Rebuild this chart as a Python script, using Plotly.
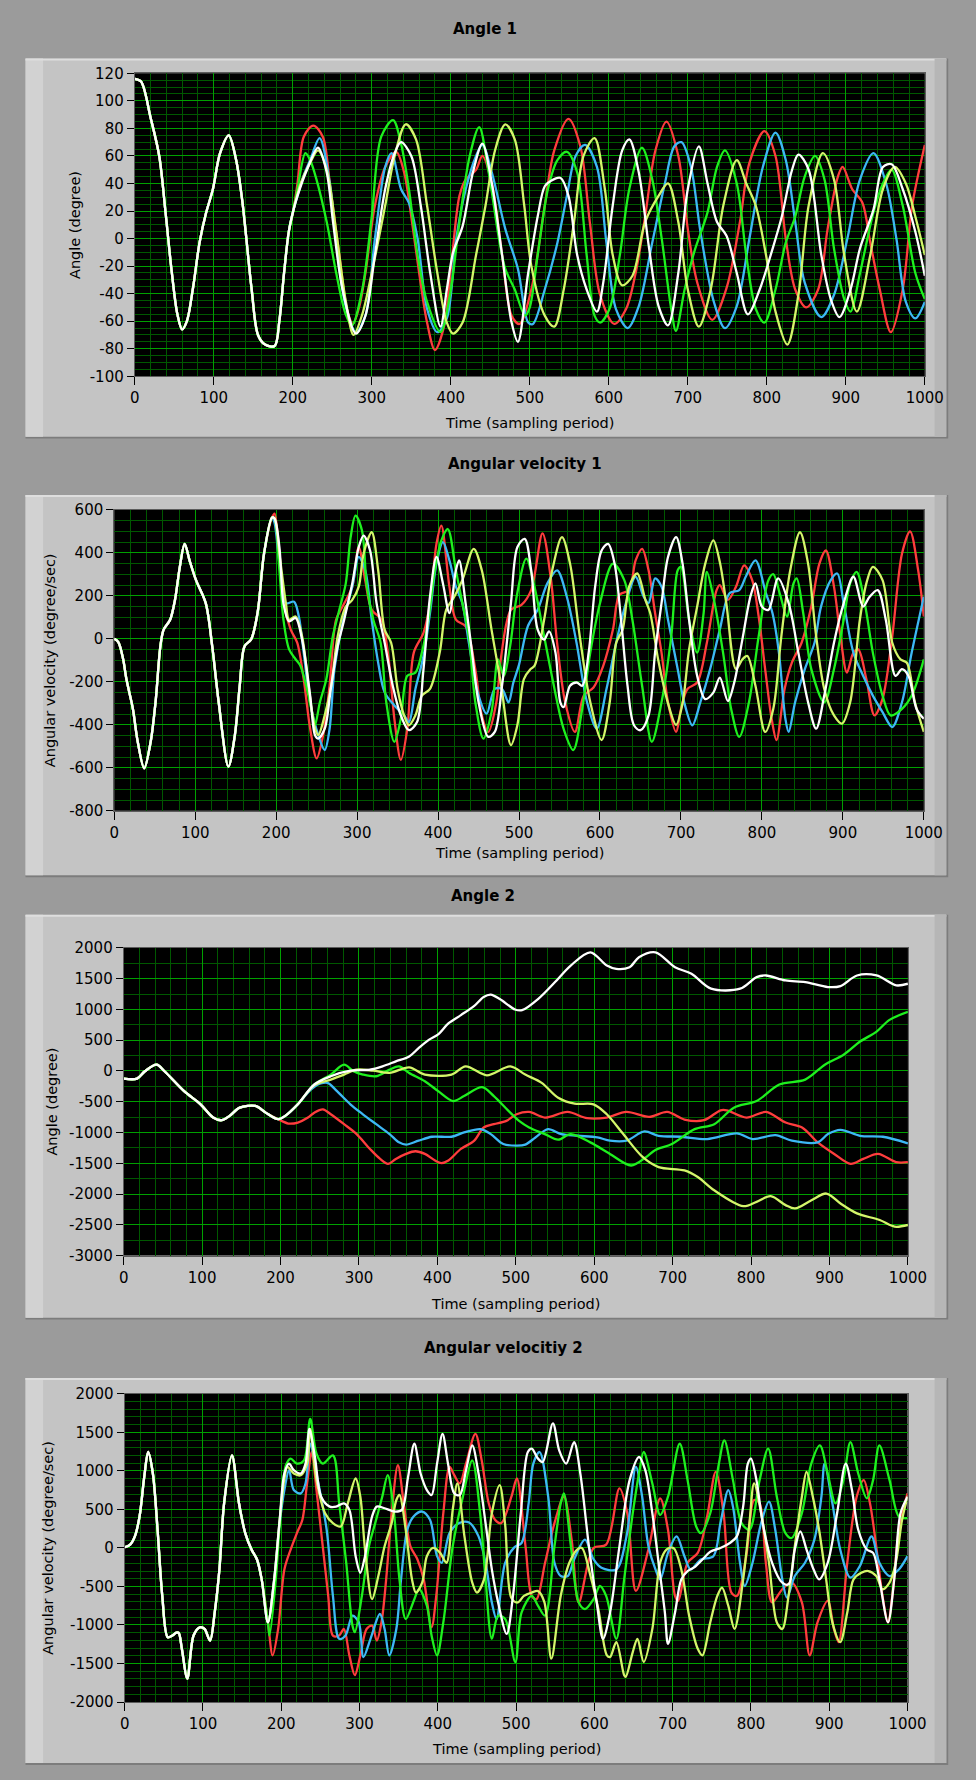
import plotly.graph_objects as go

# ---------------------------------------------------------------------------
# Sampled trajectories, (sample index, value) knots for each pendulum run.
# ---------------------------------------------------------------------------

# Angle 1 (degree)
ANGLE1_START = [(0, 116), (8, 114), (20, 88), (31, 60), (39, 19), (47, -25), (54, -55), (60, -66),
                (66, -60), (74, -35), (82, -3), (90, 18), (99, 36), (108, 62), (119, 75), (128, 58),
                (136, 28), (148, -37), (156, -70), (165, -77), (177, -78), (183, -60), (189, -25),
                (195, 5), (201, 21)]
ANGLE1_RED = [(206, 40), (214, 74), (226, 82), (238, 74), (247, 40), (259, -12), (269, -52), (276, -62),
              (284, -50), (292, -25), (304, 24), (317, 52), (331, 63), (341, 48), (350, 16), (360, -25),
              (370, -61), (380, -81), (391, -65), (401, -17), (411, 31), (419, 43), (432, 50), (440, 60),
              (452, 40), (465, -12), (477, -56), (487, -62), (502, -37), (519, 24), (531, 64), (549, 87),
              (564, 67), (576, 12), (589, -41), (607, -62), (622, -51), (634, -25), (646, 16), (659, 64),
              (673, 85), (688, 60), (700, 7), (712, -32), (731, -59), (749, -36), (766, 12), (778, 55),
              (797, 78), (811, 60), (824, 0), (836, -37), (850, -50), (865, -37), (877, 7), (890, 45),
              (896, 52), (908, 36), (921, 26), (931, -3), (943, -37), (957, -68), (972, -37), (984, 24),
              (1000, 68)]
ANGLE1_BLUE = [(206, 31), (214, 46), (222, 57), (234, 73), (247, 40), (255, -3), (267, -49), (280, -68),
               (292, -56), (304, 0), (317, 52), (325, 62), (337, 36), (347, 26), (358, 0), (370, -51),
               (383, -68), (395, -58), (407, 0), (419, 36), (432, 60), (440, 68), (452, 48), (469, 7),
               (485, -22), (498, -61), (504, -62), (519, -37), (535, -3), (547, 31), (558, 60), (570, 68),
               (585, 52), (597, -3), (609, -51), (624, -65), (638, -49), (655, -3), (671, 40), (683, 67),
               (692, 70), (704, 52), (716, 5), (733, -46), (747, -65), (762, -49), (778, 0), (795, 52),
               (811, 77), (824, 57), (836, 12), (848, -32), (869, -57), (885, -41), (902, 0), (918, 43),
               (935, 62), (951, 40), (964, 0), (976, -46), (988, -58), (1000, -46)]
ANGLE1_GREEN = [(206, 36), (216, 62), (222, 57), (230, 43), (243, 12), (255, -25), (267, -55), (275, -63),
                (288, -37), (300, 16), (312, 74), (327, 86), (337, 69), (347, 36), (358, -12), (370, -46),
                (387, -68), (399, -41), (411, 12), (424, 60), (436, 81), (448, 48), (461, 0), (469, -22),
                (481, -37), (494, -56), (500, -50), (510, -12), (523, 36), (535, 57), (547, 63), (560, 48),
                (572, -12), (582, -56), (589, -61), (601, -51), (614, -12), (626, 36), (642, 66), (655, 43),
                (667, 0), (679, -51), (685, -67), (696, -37), (708, -10), (725, 19), (737, 52), (747, 64),
                (762, 40), (774, -12), (786, -51), (797, -61), (811, -37), (824, -3), (836, 16), (848, 45),
                (861, 60), (873, 43), (885, -7), (898, -44), (906, -53), (918, -25), (935, 19), (947, 40),
                (958, 50), (972, 24), (988, -25), (1000, -44)]
ANGLE1_YELLOW = [(210, 40), (222, 55), (232, 64), (243, 50), (255, 5), (267, -45), (277, -70), (288, -55),
                 (300, -25), (317, 24), (329, 60), (343, 83), (356, 72), (370, 24), (383, -25), (395, -61),
                 (403, -69), (415, -61), (432, -12), (444, 24), (456, 64), (469, 83), (481, 72), (493, 24),
                 (502, -20), (519, -56), (531, -64), (543, -37), (556, 12), (568, 60), (582, 73), (595, 36),
                 (605, -12), (617, -34), (630, -27), (646, 12), (663, 31), (675, 40), (688, 12), (700, -37),
                 (714, -64), (729, -37), (745, 24), (762, 57), (774, 40), (786, 24), (799, -12), (811, -53),
                 (826, -77), (840, -41), (853, 24), (871, 62), (885, 43), (898, -12), (914, -53), (931, -12),
                 (947, 36), (962, 52), (976, 40), (988, 16), (1000, -12)]
ANGLE1_WHITE = [(206, 31), (218, 50), (232, 66), (243, 48), (251, 12), (263, -37), (280, -69), (292, -56),
                (304, -12), (317, 36), (329, 62), (337, 70), (350, 60), (362, 24), (374, -25), (387, -64),
                (395, -37), (403, -10), (415, 9), (428, 48), (440, 69), (452, 40), (465, -12), (477, -61),
                (485, -75), (498, -25), (510, 16), (519, 38), (527, 42), (539, 44), (549, 31), (560, -12),
                (572, -37), (585, -53), (593, -32), (605, 24), (617, 64), (626, 72), (638, 48), (651, -7),
                (663, -49), (675, -63), (688, -25), (700, 36), (714, 67), (725, 40), (737, 12), (749, 2),
                (762, -25), (776, -55), (791, -37), (807, -8), (819, 16), (832, 50), (840, 61), (853, 50),
                (869, -12), (881, -44), (892, -57), (906, -37), (918, -7), (935, 21), (947, 52), (958, 54),
                (972, 36), (988, 5), (1000, -27)]

# Angular velocity 1 (degree/sec)
VEL1_START = [(0, 0), (5, -15), (11, -95), (15, -187), (23, -325), (29, -479), (37, -602), (45, -479),
              (51, -295), (57, -34), (61, 43), (69, 89), (75, 181), (81, 335), (87, 442), (93, 365),
              (101, 273), (113, 166), (121, -34), (129, -295), (141, -594), (149, -448), (155, -218),
              (161, -34), (169, -3), (177, 120), (185, 396), (195, 565)]
VEL1_RED = [(198, 583), (204, 396), (209, 166), (218, 43), (226, -18), (234, -187), (242, -418), (250, -556),
            (258, -448), (266, -218), (274, 89), (282, 150), (294, 243), (302, 427), (310, 273), (318, 135),
            (330, 89), (338, -64), (346, -372), (354, -563), (362, -418), (370, -64), (382, 28), (390, 166),
            (398, 442), (404, 527), (414, 243), (422, 89), (434, 58), (446, -141), (454, -356), (462, -433),
            (472, -295), (478, -80), (490, 135), (503, 158), (515, 227), (529, 491), (539, 289), (547, -18),
            (557, -295), (569, -433), (580, -264), (592, -226), (604, -126), (616, 43), (624, 204), (636, 227),
            (644, 365), (652, 419), (660, 319), (668, 120), (676, -64), (684, -295), (694, -433), (700, -326),
            (708, -233), (720, -203), (732, -18), (744, 227), (748, 250), (758, 181), (768, 243), (778, 342),
            (788, 273), (796, 104), (804, -141), (812, -372), (818, -471), (828, -233), (837, -111), (849, -18),
            (861, 150), (871, 350), (879, 411), (889, 243), (897, 12), (905, -157), (913, -64), (919, -49),
            (929, -187), (939, -356), (949, -279), (961, 12), (973, 396), (983, 500), (993, 319), (1000, 104)]
VEL1_BLUE = [(198, 540), (204, 350), (212, 166), (222, 173), (228, 104), (234, -64), (242, -295), (252, -448),
             (260, -517), (266, -418), (272, -141), (282, 74), (294, 243), (302, 381), (310, 319), (318, 89),
             (326, -111), (334, -249), (346, -310), (358, -356), (364, -387), (372, -233), (382, -80), (390, 120),
             (398, 350), (406, 450), (414, 365), (422, 243), (430, 166), (438, -18), (450, -264), (460, -348),
             (470, -233), (479, -233), (487, -295), (493, -203), (500, -120), (511, 60), (523, 135), (535, 258),
             (547, 319), (559, 196), (571, -18), (584, -295), (596, -418), (608, -233), (620, -18), (632, 166),
             (644, 289), (654, 196), (660, 166), (668, 281), (676, 243), (684, 89), (696, -141), (704, -295),
             (714, -402), (724, -295), (736, -141), (748, 43), (760, 212), (772, 227), (780, 289), (792, 365),
             (805, 212), (813, 120), (821, -64), (829, -372), (833, -433), (841, -295), (853, -141), (865, -18),
             (873, 150), (885, 273), (893, 304), (901, 166), (913, -64), (925, -172), (937, -264), (949, -341),
             (961, -410), (973, -295), (985, -64), (1000, 196)]
VEL1_GREEN = [(198, 560), (204, 319), (209, 89), (216, -49), (224, -95), (230, -126), (238, -233), (246, -372),
              (248, -402), (254, -295), (262, -187), (270, 12), (278, 135), (286, 258), (292, 473), (298, 573),
              (306, 504), (312, 243), (320, 89), (329, -18), (336, -295), (346, -479), (354, -372), (362, -172),
              (372, -157), (380, -64), (388, 89), (396, 319), (404, 457), (412, 511), (422, 319), (430, 166),
              (438, 12), (446, -295), (456, -464), (466, -341), (474, -95), (481, -172), (489, -34), (497, 196),
              (509, 373), (519, 243), (531, 12), (543, -218), (555, -418), (567, -517), (578, -326), (588, -64),
              (600, 166), (616, 350), (630, 273), (640, 89), (652, -218), (664, -479), (676, -295), (688, 12),
              (696, 319), (700, 335), (710, 89), (720, -64), (728, 120), (732, 312), (740, 196), (752, -64),
              (762, -326), (772, -456), (784, -295), (796, 12), (808, 273), (814, 301), (822, 212), (831, 104),
              (839, 258), (843, 281), (851, 120), (861, -141), (877, -295), (889, -141), (901, 89), (909, 258),
              (917, 312), (927, 166), (937, -64), (949, -264), (959, -356), (973, -326), (985, -264),
              (1000, -95)]
VEL1_YELLOW = [(198, 560), (204, 396), (212, 166), (216, 89), (224, 104), (232, 12), (240, -218), (248, -418),
               (252, -448), (260, -356), (268, -218), (276, 12), (286, 150), (294, 181), (302, 243), (308, 396),
               (318, 496), (326, 319), (334, 43), (342, -18), (350, -233), (358, -356), (364, -402), (372, -356),
               (380, -264), (390, -233), (402, -64), (410, 135), (420, 196), (430, 273), (444, 419), (454, 319),
               (466, 43), (478, -218), (490, -494), (498, -400), (506, -187), (514, -141), (519, -126), (531, 89),
               (541, 319), (553, 473), (563, 350), (575, 12), (588, -295), (602, -471), (612, -295), (620, -18),
               (628, 43), (636, 243), (646, 304), (656, 181), (662, 120), (672, -100), (684, -300), (694, -400),
               (702, -300), (710, -50), (720, 150), (730, 350), (740, 458), (748, 357), (756, 166), (768, -141),
               (776, -95), (782, -80), (792, -218), (804, -433), (814, -326), (824, 12), (835, 319), (847, 496),
               (857, 350), (867, 12), (877, -233), (889, -356), (899, -394), (909, -295), (921, 89), (929, 258),
               (937, 335), (949, 273), (961, -18), (971, -95), (979, -111), (989, -295), (1000, -433)]
VEL1_WHITE = [(198, 560), (204, 427), (209, 166), (216, 81), (224, 97), (232, -3), (242, -264), (248, -448),
              (252, -464), (260, -418), (268, -218), (276, -34), (284, 89), (294, 258), (302, 427), (308, 480),
              (316, 411), (324, 166), (334, -18), (344, -218), (354, -356), (364, -425), (374, -387), (382, -141),
              (390, 196), (398, 381), (406, 258), (414, 120), (422, 319), (426, 365), (434, 166), (442, -64),
              (450, -295), (462, -456), (470, -433), (479, -218), (490, 166), (498, 427), (507, 465), (515, 319),
              (523, 43), (531, -3), (537, 35), (545, -64), (551, -295), (555, -318), (563, -218), (571, -203),
              (578, -218), (586, -64), (594, 243), (602, 411), (610, 442), (618, 350), (626, 89), (634, -218),
              (642, -402), (650, -425), (660, -356), (668, -64), (676, 166), (684, 381), (694, 473), (702, 350),
              (710, 89), (720, -172), (730, -280), (740, -250), (748, -180), (758, -290), (766, -200), (776, 0),
              (786, 200), (792, 258), (800, 150), (808, 135), (820, 281), (833, 166), (845, -64), (857, -295),
              (867, -418), (877, -264), (889, -18), (901, 166), (913, 289), (925, 150), (933, 196), (943, 227),
              (953, 89), (965, -172), (973, -141), (981, -172), (991, -326), (1000, -372)]

# Angle 2 (degree)
ANGLE2_START = [(0, -124), (17, -124), (27, -5), (42, 102), (52, -5), (77, -328), (98, -542), (114, -757),
                (125, -800), (135, -730), (148, -596), (168, -569), (181, -677), (197, -784)]
ANGLE2_RED = [(210, -854), (222, -838), (235, -757), (243, -677), (254, -623), (264, -704), (281, -865),
              (297, -1026), (314, -1267), (327, -1429), (337, -1509), (347, -1429), (360, -1348), (372, -1305),
              (384, -1348), (397, -1455), (405, -1498), (414, -1455), (430, -1267), (447, -1133), (459, -918),
              (472, -865), (488, -811), (501, -704), (517, -666), (537, -757), (566, -666), (591, -768),
              (616, -757), (641, -666), (670, -746), (693, -666), (715, -789), (740, -800), (761, -639),
              (769, -639), (794, -757), (819, -666), (844, -838), (865, -918), (885, -1160), (906, -1348),
              (927, -1509), (943, -1429), (962, -1348), (985, -1482), (1000, -1482)]
ANGLE2_BLUE = [(206, -730), (222, -542), (239, -301), (251, -204), (260, -193), (272, -328), (289, -542),
               (305, -704), (322, -865), (339, -1026), (351, -1160), (360, -1198), (376, -1133), (393, -1069),
               (418, -1069), (434, -999), (455, -945), (468, -1026), (484, -1187), (501, -1214), (512, -1198),
               (525, -1080), (541, -945), (558, -1026), (579, -1053), (604, -1080), (620, -1133), (641, -1133),
               (664, -983), (682, -1053), (711, -1069), (744, -1107), (782, -1015), (802, -1107), (831, -1042),
               (852, -1133), (885, -1160), (898, -1026), (914, -956), (939, -1053), (968, -1069), (1000, -1176)]
ANGLE2_GREEN = [(206, -730), (222, -542), (243, -220), (264, -59), (281, 102), (293, -5), (305, -59),
                (322, -86), (339, 21), (351, 75), (364, -32), (384, -166), (401, -328), (420, -489),
                (434, -408), (457, -263), (472, -408), (490, -640), (505, -820), (517, -918), (537, -1026),
                (554, -1117), (570, -1026), (595, -1160), (620, -1348), (647, -1536), (666, -1402),
                (678, -1284), (699, -1187), (728, -945), (753, -865), (778, -596), (807, -489), (836, -220),
                (869, -140), (894, 102), (918, 263), (939, 478), (960, 639), (976, 827), (1000, 961)]
ANGLE2_YELLOW = [(206, -730), (222, -542), (243, -231), (264, -140), (281, -59), (297, 21), (318, 5),
                 (339, -32), (364, 59), (384, -59), (418, -59), (436, 75), (463, -70), (493, 75), (512, -59),
                 (533, -193), (554, -435), (575, -532), (599, -542), (616, -704), (637, -1026), (662, -1402),
                 (682, -1563), (715, -1617), (732, -1724), (753, -1939), (790, -2197), (807, -2127),
                 (825, -2035), (844, -2180), (856, -2234), (877, -2100), (896, -1992), (914, -2154),
                 (935, -2315), (964, -2422), (983, -2530), (1000, -2503)]
ANGLE2_WHITE = [(206, -730), (222, -542), (243, -220), (264, -86), (289, 5), (314, 21), (330, 75), (347, 156),
                (364, 236), (376, 371), (389, 505), (401, 596), (414, 773), (430, 908), (447, 1058), (459, 1203),
                (468, 1241), (480, 1165), (499, 999), (508, 988), (529, 1176), (550, 1445), (570, 1713),
                (595, 1928), (616, 1713), (628, 1660), (645, 1686), (657, 1847), (678, 1928), (703, 1686),
                (724, 1579), (749, 1337), (786, 1337), (807, 1525), (819, 1552), (844, 1471), (869, 1445),
                (898, 1364), (914, 1380), (935, 1552), (960, 1552), (985, 1391), (1000, 1418)]

# Angular velocity 2 (degree/sec)
VEL2_START = [(0, 9), (7, 43), (13, 150), (19, 408), (25, 923), (30, 1245), (36, 966), (42, 236), (48, -622),
              (55, -1159), (61, -1137), (66, -1100), (69, -1103), (73, -1309), (80, -1695), (88, -1137),
              (96, -1030), (102, -1052), (109, -1202), (115, -837), (121, -279), (127, 579), (137, 1202),
              (146, 579), (154, 193), (162, -21), (169, -150), (175, -408), (183, -966)]
VEL2_RED = [(189, -1395), (196, -1052), (204, -279), (212, -21), (220, 193), (227, 365), (233, 837),
            (239, 1245), (245, 751), (253, 21), (260, -622), (266, -1137), (274, -1137), (280, -1052),
            (287, -1395), (294, -1652), (301, -1395), (309, -1052), (316, -1009), (322, -1202), (328, -966),
            (334, -408), (341, 451), (349, 1073), (357, 536), (365, 21), (374, -150), (382, -408), (392, -1030),
            (398, -622), (407, 451), (415, 1052), (421, 944), (428, 837), (436, 1094), (448, 1481), (456, 1137),
            (465, 579), (473, 365), (481, 322), (494, 665), (501, 901), (512, 21), (520, -622), (526, -665),
            (537, -193), (549, 322), (561, 665), (571, 100), (580, -708), (599, 0), (615, 43), (632, 772),
            (642, 451), (653, -558), (669, -21), (684, 644), (694, 236), (703, -622), (707, -687), (719, -193),
            (732, -64), (744, 408), (755, 987), (765, 451), (775, -579), (782, -622), (794, -107), (804, 622),
            (811, 579), (819, -193), (827, -708), (840, -536), (852, -451), (865, -708), (875, -1395),
            (885, -966), (898, -687), (906, -1052), (912, -1223), (923, -193), (935, 665), (944, 880), (952, 579),
            (960, 21), (968, -622), (975, -966), (981, -579), (989, 236), (1000, 708)]
VEL2_BLUE = [(191, -408), (198, 322), (204, 751), (210, 1009), (216, 751), (225, 708), (231, 837), (237, 1352),
             (245, 966), (258, 236), (266, -622), (274, -1180), (282, -1137), (291, -880), (299, -966),
             (305, -1416), (314, -1180), (326, -858), (332, -1052), (338, -1395), (347, -1052), (353, -408),
             (361, 236), (369, 408), (380, 472), (390, 365), (399, -107), (405, -193), (415, 193), (427, 322),
             (440, 330), (452, 150), (461, -193), (469, -708), (475, -923), (486, -193), (498, 10), (507, 64),
             (516, 579), (522, 1094), (530, 1245), (541, 665), (549, -193), (557, -365), (566, -365), (574, -150),
             (588, 107), (599, -150), (609, -258), (628, -279), (641, 150), (653, 1052), (661, 665), (669, 21),
             (678, -279), (684, -408), (694, -64), (705, 150), (715, -107), (723, -279), (736, -150), (752, -107),
             (761, 322), (771, 751), (777, 536), (786, -193), (792, -494), (802, -193), (813, 322), (823, 601),
             (831, 236), (840, -408), (846, -644), (856, -365), (869, -193), (881, 107), (890, 665), (894, 1094),
             (904, 579), (914, -21), (927, -386), (939, -236), (954, 150), (964, -193), (977, -365), (989, -279),
             (1000, -107)]
VEL2_GREEN = [(185, -1137), (193, -408), (200, 579), (206, 1073), (212, 1159), (220, 1094), (229, 1137),
              (237, 1674), (245, 1223), (253, 1094), (266, 1202), (274, 579), (283, -193), (291, -1009),
              (294, -1094), (303, -622), (312, 21), (320, 322), (329, 665), (336, 944), (344, 451), (351, -408),
              (359, -923), (370, -665), (376, -536), (386, -751), (392, -1137), (399, -1395), (407, -966),
              (419, 21), (432, 665), (444, 1137), (454, 451), (461, -408), (469, -1180), (477, -880), (486, -923),
              (499, -1481), (507, -837), (520, -622), (528, -751), (537, -880), (549, 21), (557, 579), (561, 708),
              (570, 21), (580, -708), (588, -794), (599, -665), (607, -494), (615, -622), (628, -1180),
              (638, -408), (649, 451), (657, 966), (663, 1245), (674, 837), (684, 429), (694, 665), (709, 1352),
              (719, 880), (730, 279), (736, 193), (748, 451), (759, 1094), (766, 1395), (777, 880), (788, 322),
              (798, 236), (811, 880), (822, 1288), (833, 665), (844, 193), (852, 129), (865, 451), (877, 1094),
              (888, 1331), (898, 966), (908, 579), (918, 880), (927, 1373), (937, 966), (948, 644), (956, 880),
              (964, 1331), (977, 880), (989, 408), (1000, 386)]
VEL2_YELLOW = [(191, -408), (198, 365), (204, 900), (208, 1052), (216, 966), (225, 944), (233, 1094),
               (237, 1545), (245, 880), (256, 451), (266, 322), (276, 279), (285, 579), (295, 901), (301, 665),
               (307, -21), (316, -665), (324, -365), (332, 21), (341, 322), (347, 622), (351, 687), (359, 236),
               (367, -408), (372, -579), (380, -451), (386, -107), (394, 0), (403, -64), (411, -193), (419, 494),
               (425, 837), (434, 150), (444, -451), (450, -579), (459, -408), (469, 451), (479, 815), (486, 300),
               (494, -650), (502, -708), (510, -622), (520, -579), (528, -560), (536, -700), (545, -1438),
               (557, -622), (568, -193), (578, -21), (584, 0), (595, -365), (605, -794), (616, -1395),
               (620, -1416), (628, -1223), (638, -1652), (640, -1674), (649, -1352), (655, -1180), (663, -1481),
               (674, -1052), (684, -193), (692, -21), (701, 0), (711, -279), (721, -880), (732, -1309),
               (738, -1395), (748, -966), (757, -622), (763, -515), (771, -751), (779, -1052), (790, -408),
               (798, 322), (804, 837), (813, 451), (823, -193), (833, -966), (840, -1052), (848, -622), (856, 21),
               (865, 665), (871, 987), (879, 665), (887, 236), (896, -408), (904, -966), (914, -1223), (923, -837),
               (931, -408), (941, -322), (950, -300), (960, -365), (968, -536), (977, -451), (985, -193),
               (993, 365), (1000, 665)]
VEL2_WHITE = [(191, -408), (198, 365), (204, 966), (210, 1094), (216, 1009), (225, 966), (231, 1094),
              (236, 1545), (243, 1180), (251, 665), (262, 536), (270, 536), (280, 579), (287, 494), (295, -107),
              (301, -322), (307, -107), (316, 408), (322, 536), (332, 515), (345, 472), (354, 494), (362, 923),
              (370, 1352), (378, 966), (386, 751), (392, 687), (399, 1094), (406, 1481), (413, 1094), (421, 708),
              (428, 687), (436, 1009), (444, 1330), (452, 966), (461, 322), (469, -279), (477, -708),
              (488, -1116), (496, -622), (506, 451), (515, 1245), (520, 1288), (528, 1159), (534, 1116),
              (547, 1618), (555, 1266), (564, 1094), (574, 1373), (582, 966), (593, 21), (603, -708),
              (611, -1180), (620, -837), (632, 21), (645, 880), (657, 1180), (665, 1009), (674, 451), (682, -193),
              (690, -837), (694, -1245), (703, -837), (711, -408), (719, -300), (728, -250), (738, -150),
              (748, -50), (761, 0), (773, 64), (782, 150), (790, 536), (796, 1094), (800, 1159), (807, 880),
              (815, 322), (827, -193), (840, -451), (848, -472), (856, -21), (863, 215), (871, -21), (880, -279),
              (887, -408), (898, -193), (910, 451), (921, 1094), (929, 751), (937, 236), (948, -21), (956, -64),
              (964, -408), (975, -966), (983, -408), (991, 451), (1000, 665)]

SERIES_COLORS = ["#ff3d3d", "#3db8f5", "#1ef01e", "#d4f56a", "#ffffff"]

PANELS = [
    dict(title="Angle 1", ytitle="Angle (degree)", yrange=(-100, 120), ystep=20, yminor=5,
         start=ANGLE1_START,
         series=[ANGLE1_RED, ANGLE1_BLUE, ANGLE1_GREEN, ANGLE1_YELLOW, ANGLE1_WHITE]),
    dict(title="Angular velocity 1", ytitle="Angular velocity (degree/sec)", yrange=(-800, 600), ystep=200,
         yminor=50, start=VEL1_START,
         series=[VEL1_RED, VEL1_BLUE, VEL1_GREEN, VEL1_YELLOW, VEL1_WHITE]),
    dict(title="Angle 2", ytitle="Angle (degree)", yrange=(-3000, 2000), ystep=500, yminor=250,
         start=ANGLE2_START,
         series=[ANGLE2_RED, ANGLE2_BLUE, ANGLE2_GREEN, ANGLE2_YELLOW, ANGLE2_WHITE]),
    dict(title="Angular velocitiy 2", ytitle="Angular velocity (degree/sec)", yrange=(-2000, 2000), ystep=500,
         yminor=100, start=VEL2_START,
         series=[VEL2_RED, VEL2_BLUE, VEL2_GREEN, VEL2_YELLOW, VEL2_WHITE]),
]

# ---------------------------------------------------------------------------
# Page geometry (pixels on a 976 x 1780 page)
# ---------------------------------------------------------------------------
W, H = 976, 1780
PLOT_BOXES = [  # x0, x1, y_top, y_bottom
    (133, 943, 65, 371),
    (112, 942, 506, 810),
    (121.7, 925.7, 948.5, 1259.3),
    (122.7, 925.3, 1399, 1710.3),
]
FRAMES = [(21, 965, 50, 432), (21, 965, 491, 875), (21, 965, 915, 1322), (21, 965, 1383, 1772)]
TITLE_POS = [(492, 20), (533, 460), (490, 896), (511, 1353)]
YTITLE_X = [72, 46, 48, 44]
XTITLE_Y = [418, 853, 1308, 1758]

BG = "#9b9b9b"
FRAME = "#c4c4c4"
FRAME_HI = "#d2d2d2"
FRAME_SHADOW = "#7c7c7c"
GRID_MAJOR = "#00a000"
GRID_MINOR = "#005800"
FONT = "DejaVu Sans"


def px(x):
    return x / W


def py(y):
    return 1 - y / H


fig = go.Figure()
shapes = []
annotations = []
layout = {}

for i, panel in enumerate(PANELS):
    n = "" if i == 0 else str(i + 1)
    x0, x1, yt, yb = PLOT_BOXES[i]
    fx0, fx1, fyt, fyb = FRAMES[i]

    # raised control frame with bevel
    shapes += [
        dict(type="rect", xref="paper", yref="paper", x0=px(fx0), x1=px(fx1 + 2), y0=py(fyb + 2), y1=py(fyt),
             fillcolor=FRAME_SHADOW, line_width=0, layer="below"),
        dict(type="rect", xref="paper", yref="paper", x0=px(fx0), x1=px(fx1), y0=py(fyb), y1=py(fyt),
             fillcolor=FRAME, line_width=0, layer="below"),
        dict(type="rect", xref="paper", yref="paper", x0=px(fx0), x1=px(fx0 + 18), y0=py(fyb), y1=py(fyt),
             fillcolor=FRAME_HI, line_width=0, layer="below"),
        dict(type="rect", xref="paper", yref="paper", x0=px(fx0), x1=px(fx1), y0=py(fyt + 2), y1=py(fyt),
             fillcolor="#dedede", line_width=0, layer="below"),
        dict(type="rect", xref="paper", yref="paper", x0=px(fx1 - 12), x1=px(fx1), y0=py(fyb), y1=py(fyt),
             fillcolor="#b6b6b6", line_width=0, layer="below"),
        # black plotting area
        dict(type="rect", xref="paper", yref="paper", x0=px(x0), x1=px(x1), y0=py(yb), y1=py(yt),
             fillcolor="black", line_width=0, layer="below"),
    ]

    lo, hi = panel["yrange"]
    yvals = list(range(lo, hi + 1, panel["ystep"]))
    axis_font = dict(family=FONT, size=15, color="black")
    layout["xaxis" + n] = dict(
        domain=[px(x0), px(x1)], anchor="y" + n, range=[0, 1000], tickmode="linear", tick0=0, dtick=100,
        ticks="outside", ticklen=8, tickcolor="black", tickfont=axis_font,
        showgrid=True, gridcolor=GRID_MAJOR, gridwidth=1, zeroline=False,
        showline=True, linecolor="#5c5c5c", linewidth=1, mirror=True,
        minor=dict(dtick=20, tick0=0, showgrid=True, gridcolor=GRID_MINOR, gridwidth=1, ticks=""),
        fixedrange=True,
    )
    layout["yaxis" + n] = dict(
        domain=[py(yb), py(yt)], anchor="x" + n, range=[lo, hi], tickmode="array", tickvals=yvals,
        ticktext=[str(v) for v in yvals], ticks="outside", ticklen=7, tickcolor="black", tickfont=axis_font,
        showgrid=True, gridcolor=GRID_MAJOR, gridwidth=1, zeroline=False,
        showline=True, linecolor="#5c5c5c", linewidth=1, mirror=True,
        minor=dict(dtick=panel["yminor"], tick0=0, showgrid=True, gridcolor=GRID_MINOR, gridwidth=1, ticks=""),
        fixedrange=True,
    )

    for knots, color in zip(panel["series"], SERIES_COLORS):
        pts = [p for p in panel["start"] if p[0] < knots[0][0]] + knots
        fig.add_trace(go.Scatter(
            x=[p[0] for p in pts], y=[p[1] for p in pts], mode="lines",
            line=dict(color=color, width=2.3, shape="spline", smoothing=0.9),
            xaxis="x" + n, yaxis="y" + n, hoverinfo="skip", showlegend=False,
        ))

    tx, ty = TITLE_POS[i]
    annotations.append(dict(text="<b>%s</b>" % panel["title"], x=px(tx), y=py(ty), xref="paper", yref="paper",
                            showarrow=False, xanchor="center", yanchor="middle",
                            font=dict(family=FONT, size=15, color="black")))
    annotations.append(dict(text=panel["ytitle"], x=px(YTITLE_X[i]), y=py((yt + yb) / 2), xref="paper",
                            yref="paper", showarrow=False, textangle=-90, xanchor="center", yanchor="middle",
                            font=dict(family=FONT, size=14.5, color="black")))
    annotations.append(dict(text="Time (sampling period)", x=px((x0 + x1) / 2), y=py(XTITLE_Y[i]),
                            xref="paper", yref="paper", showarrow=False, xanchor="center", yanchor="middle",
                            font=dict(family=FONT, size=14.5, color="black")))

fig.update_layout(
    width=W, height=H, margin=dict(l=0, r=0, t=0, b=0),
    paper_bgcolor=BG, plot_bgcolor="black",
    shapes=shapes, annotations=annotations, showlegend=False,
    **layout,
)

fig.write_html("out.html", config={"displayModeBar": False})
